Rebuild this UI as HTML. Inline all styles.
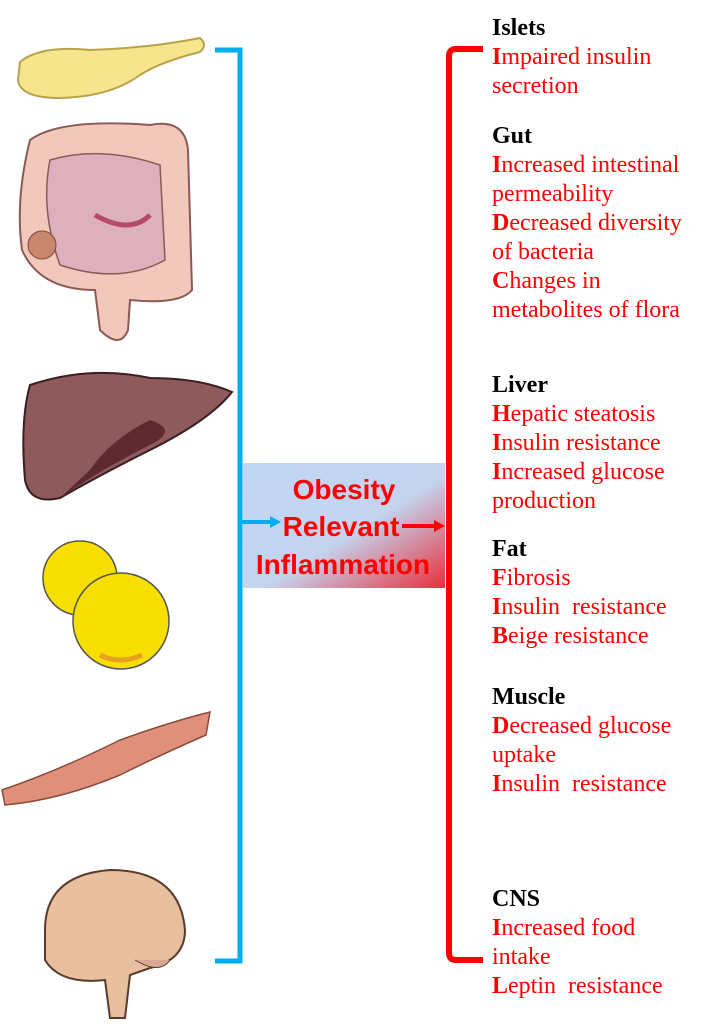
<!DOCTYPE html>
<html><head><style>
body{margin:0;width:706px;height:1034px;background:#fff;position:relative;overflow:hidden;font-family:"Liberation Serif",serif}
.t{position:absolute;left:492px;font-size:24px;line-height:29px;color:#f00;white-space:pre}
.h{color:#000;font-weight:bold}
.b{font-weight:bold}
</style></head><body>
<svg width="706" height="1034" style="position:absolute;left:0;top:0">
<defs>
<linearGradient id="g" x1="0" y1="0" x2="1" y2="1">
<stop offset="0" stop-color="#c0d6f4"/><stop offset="0.55" stop-color="#c4d4ef"/><stop offset="1" stop-color="#e8303c"/>
</linearGradient>
</defs>
<rect x="243" y="463" width="202" height="125" fill="url(#g)"/>
<path d="M215 50 H240 V961 H215" fill="none" stroke="#00aeef" stroke-width="5"/>
<path d="M483 49 H456 Q449 49 449 56 V953 Q449 960 456 960 H483" fill="none" stroke="#f00" stroke-width="6"/>
<line x1="242" y1="522" x2="272" y2="522" stroke="#00aeef" stroke-width="4"/>
<polygon points="270,516 281,522 270,528" fill="#00aeef"/>
<line x1="402" y1="526" x2="436" y2="526" stroke="#f00" stroke-width="4"/>
<polygon points="434,520 445,526 434,532" fill="#f00"/>
<text x="344" y="499" text-anchor="middle" font-family="Liberation Sans" font-weight="bold" font-size="28" fill="#f00">Obesity</text>
<text x="341" y="536" text-anchor="middle" font-family="Liberation Sans" font-weight="bold" font-size="28" fill="#f00">Relevant</text>
<text x="343" y="574" text-anchor="middle" font-family="Liberation Sans" font-weight="bold" font-size="28" fill="#f00">Inflammation</text>
<path d="M20 62 Q40 45 90 50 Q150 48 200 38 Q208 45 200 52 Q160 62 140 75 Q110 97 60 98 Q20 98 18 80 Z" fill="#f6e58d" stroke="#b9a24a" stroke-width="2"/>
<path d="M30 140 Q60 118 150 125 Q185 118 188 150 L192 290 Q180 305 130 300 L128 330 Q120 350 100 330 L95 290 Q40 290 22 250 Q15 200 30 140 Z" fill="#f3c8bc" stroke="#8a5a55" stroke-width="2"/>
<path d="M50 160 Q100 145 160 165 L165 260 Q120 285 60 265 Q40 210 50 160 Z" fill="#dcb1bd" stroke="#8a5a55" stroke-width="1.5"/>
<path d="M95 215 Q130 235 150 215" fill="none" stroke="#b54a6a" stroke-width="5"/>
<circle cx="42" cy="245" r="14" fill="#c9876e" stroke="#7a4a3a"/>
<path d="M30 385 Q90 365 150 378 Q200 378 232 392 Q210 420 150 450 Q100 475 60 498 Q30 505 25 480 Q20 420 30 385 Z" fill="#8f5a5c" stroke="#3a1e20" stroke-width="2"/>
<path d="M60 498 Q100 470 150 445 Q180 430 150 420 Q110 440 90 470 Z" fill="#5e2a30"/>
<circle cx="80" cy="578" r="37" fill="#f7e000" stroke="#555" stroke-width="1.5"/>
<circle cx="121" cy="621" r="48" fill="#f7e000" stroke="#555" stroke-width="1.5"/>
<path d="M100 655 Q120 665 142 655" fill="none" stroke="#e8a020" stroke-width="5"/>
<path d="M2 790 Q60 770 120 740 Q170 722 210 712 L206 735 Q160 755 120 775 Q60 800 5 805 Z" fill="#e0907a" stroke="#8a4a3a" stroke-width="1.5"/>
<path d="M45 930 Q45 875 110 870 Q180 870 185 930 Q185 960 150 968 L130 975 L125 1018 L110 1018 L105 980 Q60 985 45 960 Z" fill="#e8c0a0" stroke="#5a3a2a" stroke-width="2"/>
<path d="M135 960 Q160 975 170 960" fill="#d8a890" stroke="#5a3a2a"/>
</svg>
<div class="t h" style="top:14px">Islets</div>
<div class="t" style="top:43px"><span class="b">I</span>mpaired insulin
secretion</div>
<div class="t h" style="top:122px">Gut</div>
<div class="t" style="top:151px"><span class="b">I</span>ncreased intestinal
permeability
<span class="b">D</span>ecreased diversity
of bacteria
<span class="b">C</span>hanges in
metabolites of flora</div>
<div class="t h" style="top:371px">Liver</div>
<div class="t" style="top:400px"><span class="b">H</span>epatic steatosis
<span class="b">I</span>nsulin resistance
<span class="b">I</span>ncreased glucose
production</div>
<div class="t h" style="top:535px">Fat</div>
<div class="t" style="top:564px"><span class="b">F</span>ibrosis
<span class="b">I</span>nsulin  resistance
<span class="b">B</span>eige resistance</div>
<div class="t h" style="top:683px">Muscle</div>
<div class="t" style="top:712px"><span class="b">D</span>ecreased glucose
uptake
<span class="b">I</span>nsulin  resistance</div>
<div class="t h" style="top:885px">CNS</div>
<div class="t" style="top:914px"><span class="b">I</span>ncreased food
intake
<span class="b">L</span>eptin  resistance</div>
</body></html>
